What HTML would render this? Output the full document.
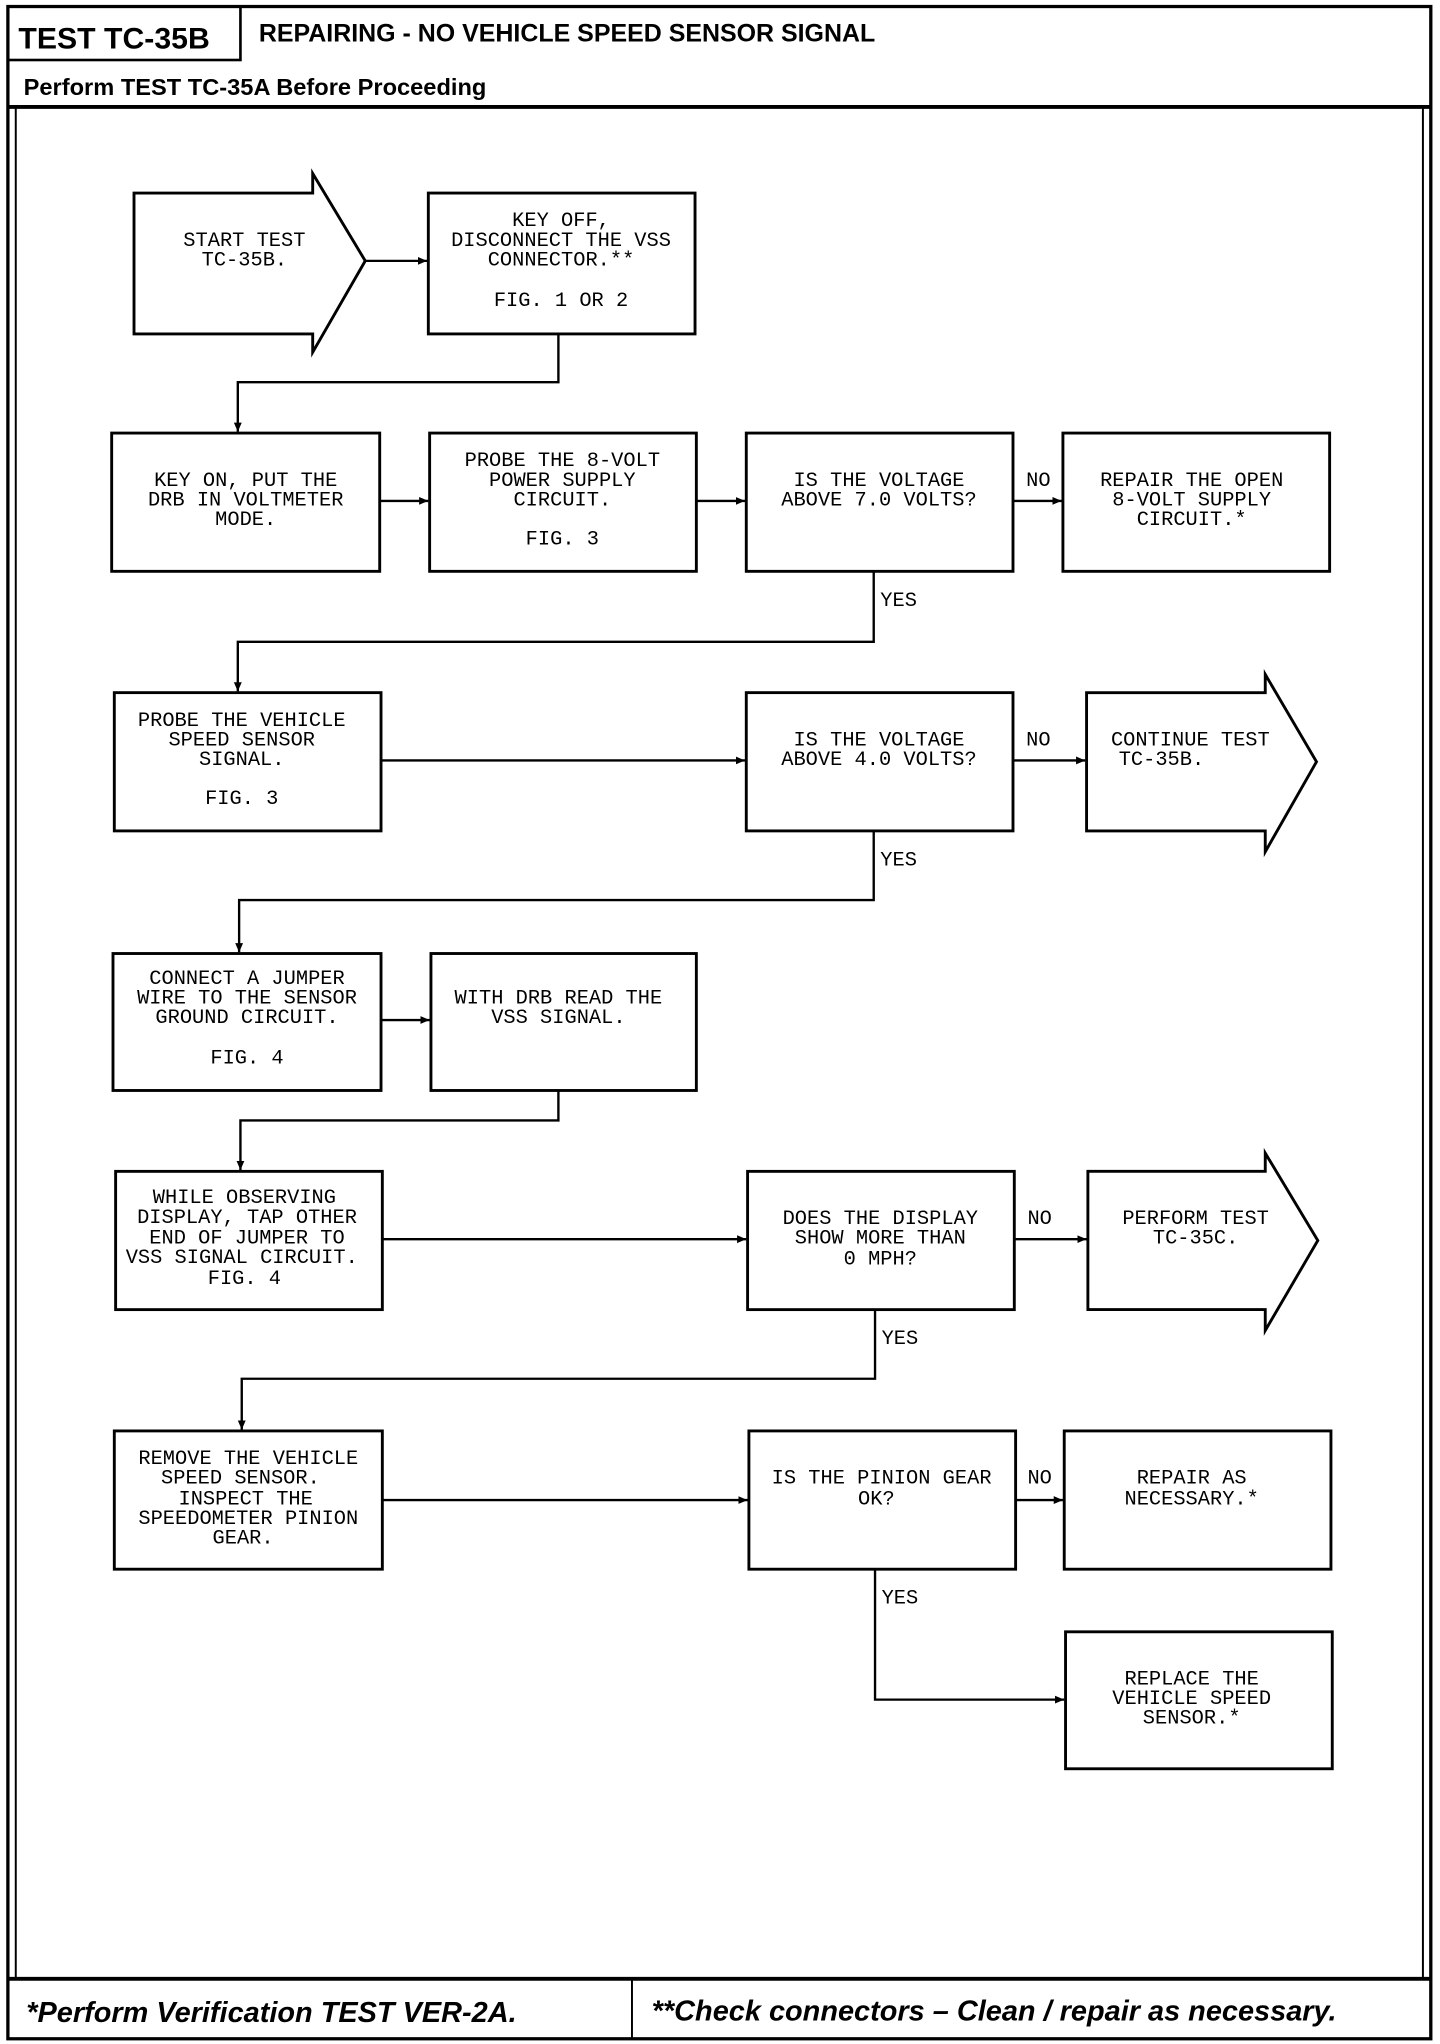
<!DOCTYPE html>
<html><head><meta charset="utf-8"><style>
html,body{margin:0;padding:0;background:#fff;}
svg{display:block;}
.t{font-family:"Liberation Mono",monospace;font-size:15.5px;fill:#000;text-anchor:middle;dominant-baseline:central;}
.l{font-family:"Liberation Mono",monospace;font-size:15.5px;fill:#000;dominant-baseline:central;}
.b{fill:#fff;stroke:#000;stroke-width:2.2;}
.c{fill:none;stroke:#000;stroke-width:1.8;}
</style></head><body>
<svg width="1440" height="2044" viewBox="0 0 1096 1567" preserveAspectRatio="none" xmlns="http://www.w3.org/2000/svg">
<defs><marker id="a" markerWidth="8" markerHeight="8" refX="7" refY="4" orient="auto" markerUnits="userSpaceOnUse"><path d="M0,1 L7,4 L0,7 Z" fill="#000"/></marker></defs>
<!-- frame -->
<rect x="6" y="5" width="1083" height="1558" fill="none" stroke="#000" stroke-width="2.5"/>
<rect x="6" y="5" width="177" height="41" fill="none" stroke="#000" stroke-width="2"/>
<text x="14" y="37" style="font-family:'Liberation Sans',sans-serif;font-weight:bold;font-size:23px;">TEST TC-35B</text>
<text x="197" y="32" style="font-family:'Liberation Sans',sans-serif;font-weight:bold;font-size:19px;">REPAIRING - NO VEHICLE SPEED SENSOR SIGNAL</text>
<text x="18" y="73" style="font-family:'Liberation Sans',sans-serif;font-weight:bold;font-size:18px;">Perform TEST TC-35A Before Proceeding</text>
<line x1="6" y1="82" x2="1089" y2="82" stroke="#000" stroke-width="3"/>
<line x1="12" y1="82" x2="12" y2="1517" stroke="#000" stroke-width="1.5"/>
<line x1="1083" y1="82" x2="1083" y2="1517" stroke="#000" stroke-width="1.5"/>
<line x1="6" y1="1517" x2="1089" y2="1517" stroke="#000" stroke-width="3"/>
<line x1="481" y1="1517" x2="481" y2="1563" stroke="#000" stroke-width="1.5"/>
<text x="20" y="1550" style="font-family:'Liberation Sans',sans-serif;font-weight:bold;font-style:italic;font-size:22px;">*Perform Verification TEST VER-2A.</text>
<text x="496" y="1549" style="font-family:'Liberation Sans',sans-serif;font-weight:bold;font-style:italic;font-size:22px;">**Check connectors – Clean / repair as necessary.</text>

<!-- row1 -->
<path class="b" d="M102,148 L238,148 L238,133 L278,200 L238,270 L238,256 L102,256 Z"/>
<text class="t" x="186" y="185">START TEST</text><text class="t" x="186" y="200">TC-35B.</text>
<rect class="b" x="326" y="148" width="203" height="108"/>
<text class="t" x="427" y="170">KEY OFF,</text><text class="t" x="427" y="185">DISCONNECT THE VSS</text><text class="t" x="427" y="200">CONNECTOR.**</text><text class="t" x="427" y="231">FIG. 1 OR 2</text>
<line class="c" x1="278" y1="200" x2="325" y2="200" marker-end="url(#a)"/>
<polyline class="c" points="425,256 425,293 181,293 181,331" marker-end="url(#a)"/>

<!-- row2 -->
<rect class="b" x="85" y="332" width="204" height="106"/>
<text class="t" x="187" y="369">KEY ON, PUT THE</text><text class="t" x="187" y="384">DRB IN VOLTMETER</text><text class="t" x="187" y="399">MODE.</text>
<rect class="b" x="327" y="332" width="203" height="106"/>
<text class="t" x="428" y="354">PROBE THE 8-VOLT</text><text class="t" x="428" y="369">POWER SUPPLY</text><text class="t" x="428" y="384">CIRCUIT.</text><text class="t" x="428" y="414">FIG. 3</text>
<rect class="b" x="568" y="332" width="203" height="106"/>
<text class="t" x="669" y="369">IS THE VOLTAGE</text><text class="t" x="669" y="384">ABOVE 7.0 VOLTS?</text>
<rect class="b" x="809" y="332" width="203" height="106"/>
<text class="t" x="907" y="369">REPAIR THE OPEN</text><text class="t" x="907" y="384">8-VOLT SUPPLY</text><text class="t" x="907" y="399">CIRCUIT.*</text>
<line class="c" x1="289" y1="384" x2="326" y2="384" marker-end="url(#a)"/>
<line class="c" x1="530" y1="384" x2="567" y2="384" marker-end="url(#a)"/>
<line class="c" x1="771" y1="384" x2="808" y2="384" marker-end="url(#a)"/>
<text class="l" x="781" y="369">NO</text>
<polyline class="c" points="665,438 665,492 181,492 181,530" marker-end="url(#a)"/>
<text class="l" x="670" y="461">YES</text>

<!-- row3 -->
<rect class="b" x="87" y="531" width="203" height="106"/>
<text class="t" x="184" y="553">PROBE THE VEHICLE</text><text class="t" x="184" y="568">SPEED SENSOR</text><text class="t" x="184" y="583">SIGNAL.</text><text class="t" x="184" y="613">FIG. 3</text>
<rect class="b" x="568" y="531" width="203" height="106"/>
<text class="t" x="669" y="568">IS THE VOLTAGE</text><text class="t" x="669" y="583">ABOVE 4.0 VOLTS?</text>
<path class="b" d="M827,531 L963,531 L963,517 L1002,584 L963,653 L963,637 L827,637 Z"/>
<text class="t" x="906" y="568">CONTINUE TEST</text><text class="t" x="884" y="583">TC-35B.</text>
<line class="c" x1="290" y1="583" x2="567" y2="583" marker-end="url(#a)"/>
<line class="c" x1="771" y1="583" x2="826" y2="583" marker-end="url(#a)"/>
<text class="l" x="781" y="568">NO</text>
<polyline class="c" points="665,637 665,690 182,690 182,730" marker-end="url(#a)"/>
<text class="l" x="670" y="660">YES</text>

<!-- row4 -->
<rect class="b" x="86" y="731" width="204" height="105"/>
<text class="t" x="188" y="751">CONNECT A JUMPER</text><text class="t" x="188" y="766">WIRE TO THE SENSOR</text><text class="t" x="188" y="781">GROUND CIRCUIT.</text><text class="t" x="188" y="812">FIG. 4</text>
<rect class="b" x="328" y="731" width="202" height="105"/>
<text class="t" x="425" y="766">WITH DRB READ THE</text><text class="t" x="425" y="781">VSS SIGNAL.</text>
<line class="c" x1="290" y1="782" x2="327" y2="782" marker-end="url(#a)"/>
<polyline class="c" points="425,836 425,859 183,859 183,897" marker-end="url(#a)"/>

<!-- row5 -->
<rect class="b" x="88" y="898" width="203" height="106"/>
<text class="t" x="186" y="919">WHILE OBSERVING</text><text class="t" x="188" y="934">DISPLAY, TAP OTHER</text><text class="t" x="188" y="950">END OF JUMPER TO</text><text class="t" x="184" y="965">VSS SIGNAL CIRCUIT.</text><text class="t" x="186" y="981">FIG. 4</text>
<rect class="b" x="569" y="898" width="203" height="106"/>
<text class="t" x="670" y="935">DOES THE DISPLAY</text><text class="t" x="670" y="950">SHOW MORE THAN</text><text class="t" x="670" y="966">0 MPH?</text>
<path class="b" d="M828,898 L963,898 L963,884 L1003,951 L963,1020 L963,1004 L828,1004 Z"/>
<text class="t" x="910" y="935">PERFORM TEST</text><text class="t" x="910" y="950">TC-35C.</text>
<line class="c" x1="291" y1="950" x2="568" y2="950" marker-end="url(#a)"/>
<line class="c" x1="772" y1="950" x2="827" y2="950" marker-end="url(#a)"/>
<text class="l" x="782" y="935">NO</text>
<polyline class="c" points="666,1004 666,1057 184,1057 184,1096" marker-end="url(#a)"/>
<text class="l" x="671" y="1027">YES</text>

<!-- row6 -->
<rect class="b" x="87" y="1097" width="204" height="106"/>
<text class="t" x="189" y="1119">REMOVE THE VEHICLE</text><text class="t" x="183" y="1134">SPEED SENSOR.</text><text class="t" x="187" y="1150">INSPECT THE</text><text class="t" x="189" y="1165">SPEEDOMETER PINION</text><text class="t" x="185" y="1180">GEAR.</text>
<rect class="b" x="570" y="1097" width="203" height="106"/>
<text class="t" x="671" y="1134">IS THE PINION GEAR</text><text class="t" x="667" y="1150">OK?</text>
<rect class="b" x="810" y="1097" width="203" height="106"/>
<text class="t" x="907" y="1134">REPAIR AS</text><text class="t" x="907" y="1150">NECESSARY.*</text>
<line class="c" x1="291" y1="1150" x2="569" y2="1150" marker-end="url(#a)"/>
<line class="c" x1="773" y1="1150" x2="809" y2="1150" marker-end="url(#a)"/>
<text class="l" x="782" y="1134">NO</text>
<polyline class="c" points="666,1203 666,1303 810,1303" marker-end="url(#a)"/>
<text class="l" x="671" y="1226">YES</text>
<rect class="b" x="811" y="1251" width="203" height="105"/>
<text class="t" x="907" y="1288">REPLACE THE</text><text class="t" x="907" y="1303">VEHICLE SPEED</text><text class="t" x="907" y="1318">SENSOR.*</text>
</svg>
</body></html>
